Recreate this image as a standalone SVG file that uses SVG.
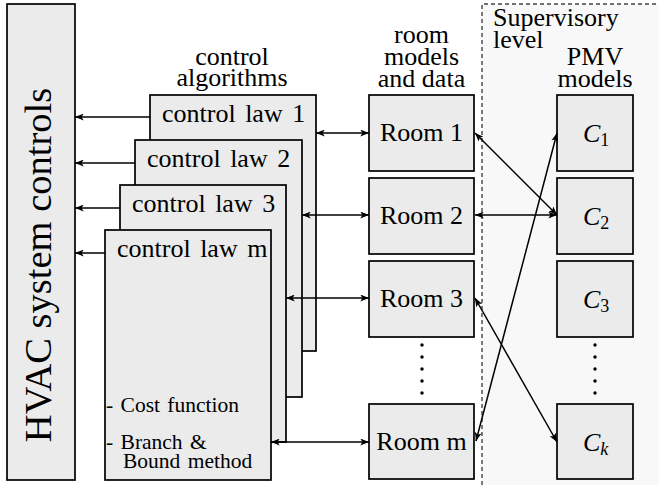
<svg xmlns="http://www.w3.org/2000/svg" width="659" height="485" viewBox="0 0 659 485" font-family="'Liberation Serif', 'Times New Roman', serif">
<style>
text{font-family:"Liberation Serif","Times New Roman",serif;fill:#000}
.box{fill:#ebebeb;stroke:#000;stroke-width:1.7}
.t{font-size:26px}
.c{text-anchor:middle}
.s{font-size:21.5px}
.ln{stroke:#000;stroke-width:1.5;fill:none}
.dot{fill:#000}
</style>
<defs>
<marker id="ah" viewBox="0 0 10 8" refX="10" refY="4" markerWidth="9" markerHeight="7" markerUnits="userSpaceOnUse" orient="auto-start-reverse">
<path d="M0,0 L10,4 L0,8 L2.5,4 Z" fill="#000"/>
</marker>
</defs>
<rect x="0" y="0" width="659" height="485" fill="#fff"/>
<g id="supervisory">
<rect x="482" y="4" width="177" height="481" fill="#f8f8f8"/>
<path d="M482,485 L482,4 L659,4" fill="none" stroke="#444" stroke-width="1.4" stroke-dasharray="4,3"/>
<text class="t" x="493" y="26">Supervisory</text>
<text class="t" x="493" y="48">level</text>
</g>
<g id="hvac">
<rect class="box" x="7" y="4" width="68" height="476"/>
<text x="0" y="0" font-size="38.5" text-anchor="middle" transform="translate(51,265) rotate(-90)">HVAC system controls</text>
</g>
<g id="header-control">
<text class="t c" x="232" y="65">control</text>
<text class="t c" x="232" y="86">algorithms</text>
</g>
<g id="header-room">
<text class="t c" x="421.5" y="43">room</text>
<text class="t c" x="421.5" y="65">models</text>
<text class="t c" x="421.5" y="87">and data</text>
</g>
<g id="header-pmv">
<text class="t c" x="595" y="65">PMV</text>
<text class="t c" x="595" y="87">models</text>
</g>
<g id="law1">
<rect class="box" x="150" y="95" width="166" height="256"/>
<text class="t" x="162" y="122" word-spacing="3">control law 1</text>
</g>
<g id="law2">
<rect class="box" x="135" y="140" width="167" height="257"/>
<text class="t" x="147" y="167" word-spacing="3">control law 2</text>
</g>
<g id="law3">
<rect class="box" x="120" y="185" width="166" height="257"/>
<text class="t" x="132" y="212" word-spacing="3">control law 3</text>
</g>
<g id="lawm">
<rect class="box" x="105" y="230" width="166" height="250"/>
<text class="t" x="117" y="257" word-spacing="3">control law m</text>
<text class="s" x="106" y="412" word-spacing="2">- Cost function</text>
<text class="s" x="106" y="449" word-spacing="2">- Branch &amp;</text>
<text class="s" x="123" y="468" word-spacing="2">Bound method</text>
</g>
<g id="room1">
<rect class="box" x="369" y="95" width="105" height="76"/>
<text class="t c" x="421.5" y="141">Room 1</text>
</g>
<g id="room2">
<rect class="box" x="369" y="178" width="105" height="76"/>
<text class="t c" x="421.5" y="224">Room 2</text>
</g>
<g id="room3">
<rect class="box" x="369" y="261" width="105" height="76"/>
<text class="t c" x="421.5" y="307">Room 3</text>
</g>
<g id="roomm">
<rect class="box" x="369" y="404" width="105" height="75"/>
<text class="t c" x="421.5" y="450">Room m</text>
</g>
<g id="c1">
<rect class="box" x="557" y="95" width="76" height="76"/>
<text class="t" x="583" y="142" font-style="italic">C<tspan font-style="normal" font-size="18" dy="4">1</tspan></text>
</g>
<g id="c2">
<rect class="box" x="557" y="178" width="76" height="76"/>
<text class="t" x="583" y="225" font-style="italic">C<tspan font-style="normal" font-size="18" dy="4">2</tspan></text>
</g>
<g id="c3">
<rect class="box" x="557" y="261" width="76" height="76"/>
<text class="t" x="583" y="308" font-style="italic">C<tspan font-style="normal" font-size="18" dy="4">3</tspan></text>
</g>
<g id="ck">
<rect class="box" x="557" y="404" width="76" height="75"/>
<text class="t" x="583" y="451" font-style="italic">C<tspan font-size="18" dy="4">k</tspan></text>
</g>
<g id="dots">
<circle class="dot" cx="422" cy="345" r="1.7"/><circle class="dot" cx="422" cy="357" r="1.7"/><circle class="dot" cx="422" cy="369" r="1.7"/><circle class="dot" cx="422" cy="381" r="1.7"/><circle class="dot" cx="422" cy="393" r="1.7"/>
<circle class="dot" cx="595" cy="345" r="1.7"/><circle class="dot" cx="595" cy="357" r="1.7"/><circle class="dot" cx="595" cy="369" r="1.7"/><circle class="dot" cx="595" cy="381" r="1.7"/><circle class="dot" cx="595" cy="393" r="1.7"/>
</g>
<g id="connectors">
<line class="ln" x1="150" y1="117" x2="75" y2="117" marker-end="url(#ah)"/>
<line class="ln" x1="135" y1="163" x2="75" y2="163" marker-end="url(#ah)"/>
<line class="ln" x1="120" y1="208" x2="75" y2="208" marker-end="url(#ah)"/>
<line class="ln" x1="105" y1="253" x2="75" y2="253" marker-end="url(#ah)"/>
<line class="ln" x1="316" y1="133" x2="369" y2="133" marker-start="url(#ah)" marker-end="url(#ah)"/>
<line class="ln" x1="302" y1="215" x2="369" y2="215" marker-start="url(#ah)" marker-end="url(#ah)"/>
<line class="ln" x1="286" y1="298" x2="369" y2="298" marker-start="url(#ah)" marker-end="url(#ah)"/>
<line class="ln" x1="271" y1="442" x2="369" y2="442" marker-start="url(#ah)" marker-end="url(#ah)"/>
<line class="ln" x1="475" y1="133" x2="557" y2="215" marker-start="url(#ah)" marker-end="url(#ah)"/>
<line class="ln" x1="475" y1="215" x2="557" y2="215" marker-start="url(#ah)" marker-end="url(#ah)"/>
<line class="ln" x1="475" y1="298" x2="557" y2="442" marker-start="url(#ah)" marker-end="url(#ah)"/>
<line class="ln" x1="476" y1="441" x2="557" y2="133" marker-start="url(#ah)" marker-end="url(#ah)"/>
</g>
</svg>
